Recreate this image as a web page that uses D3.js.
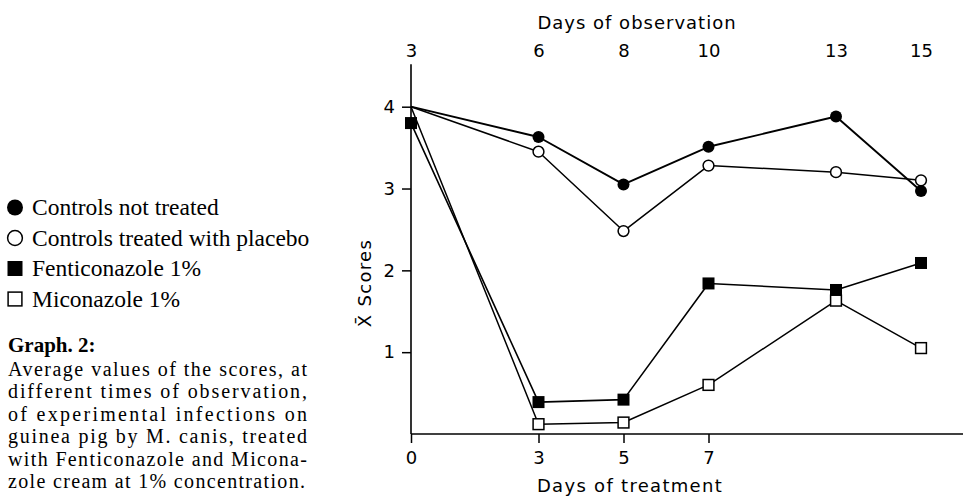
<!DOCTYPE html>
<html><head><meta charset="utf-8">
<script src="https://cdn.jsdelivr.net/npm/d3@7"></script>
<style>
html,body{margin:0;padding:0;background:#fff;}
svg{display:block;}
</style></head>
<body>
<svg id="chart" width="963" height="496"></svg>
<script>
// ---- data ----
const obsDays = [3, 6, 8, 10, 13, 15];            // days of observation (top axis)
const treatTicks = [0, 3, 5, 7];                   // days of treatment (bottom axis labels)
const yTicks = [1, 2, 3, 4];
const controlsNotTreated = [4.0, 3.63, 3.05, 3.51, 3.88, 2.97];
const controlsPlacebo    = [4.0, 3.45, 2.48, 3.28, 3.20, 3.10];
const fenticonazole      = [3.80, 0.39, 0.42, 1.84, 1.76, 2.09];
const miconazole         = [4.0, 0.12, 0.14, 0.60, 1.63, 1.05];
const seriesNames = ["Controls not treated", "Controls treated with placebo", "Fenticonazole 1%", "Miconazole 1%"];
const captionTitle = "Graph. 2:";
const captionLines = [
  "Average values of the scores, at",
  "different times of observation,",
  "of experimental infections on",
  "guinea pig by M. canis, treated",
  "with Fenticonazole and Micona-",
  "zole cream at 1% concentration."
];

const series = [
  {name: seriesNames[0], values: controlsNotTreated, shape: "circle", filled: true,  firstMarker: false, sw: 1.9},
  {name: seriesNames[1], values: controlsPlacebo,    shape: "circle", filled: false, firstMarker: false, sw: 1.5},
  {name: seriesNames[2], values: fenticonazole,      shape: "square", filled: true,  firstMarker: true,  sw: 1.6},
  {name: seriesNames[3], values: miconazole,         shape: "square", filled: false, firstMarker: false, sw: 1.5}
];

const svg = d3.select("#chart");
const chartFont = "'DejaVu Sans', sans-serif";
const serif = "'Liberation Serif', 'Times New Roman', serif";

// scales
const x = d3.scaleLinear().domain([3, 15]).range([411, 921]);
const xT = d3.scaleLinear().domain([0, 12]).range([411, 921]);
const y = d3.scaleLinear().domain([0, 4]).range([434, 106.7]);

// y axis
const yAxisG = svg.append("g").attr("transform", `translate(${x(3)},0)`)
  .call(d3.axisLeft(y).tickValues(yTicks).tickSize(9).tickPadding(7).tickFormat(d3.format("d")));
yAxisG.select(".domain").remove();
yAxisG.selectAll(".tick line").attr("stroke", "#000").attr("stroke-width", 1.5);
yAxisG.selectAll(".tick text").attr("font-family", chartFont).attr("font-size", 18).attr("fill", "#000");
svg.append("line").attr("x1", x(3)).attr("x2", x(3)).attr("y1", y(4.52)).attr("y2", y(0))
  .attr("stroke", "#000").attr("stroke-width", 1.6);

// bottom axis
const xAxisG = svg.append("g").attr("transform", `translate(0,${y(0)})`)
  .call(d3.axisBottom(xT).tickValues(treatTicks).tickSize(9).tickPadding(8).tickFormat(d3.format("d")));
xAxisG.select(".domain").remove();
xAxisG.selectAll(".tick line").attr("stroke", "#000").attr("stroke-width", 1.5);
xAxisG.selectAll(".tick text").attr("font-family", chartFont).attr("font-size", 18).attr("fill", "#000");
svg.append("line").attr("x1", xT(0)).attr("x2", 963).attr("y1", y(0)).attr("y2", y(0))
  .attr("stroke", "#000").attr("stroke-width", 1.6);

// top axis (labels only)
const topAxisG = svg.append("g").attr("transform", `translate(0,${y(4.52)})`)
  .call(d3.axisTop(x).tickValues(obsDays).tickSize(0).tickPadding(7).tickFormat(d3.format("d")));
topAxisG.select(".domain").remove();
topAxisG.selectAll(".tick text").attr("font-family", chartFont).attr("font-size", 18).attr("fill", "#000");

// axis titles
svg.append("text").attr("x", 637).attr("y", 29).attr("text-anchor", "middle")
  .attr("font-family", chartFont).attr("font-size", 18).attr("letter-spacing", 1).text("Days of observation");
svg.append("text").attr("x", 630).attr("y", 492).attr("text-anchor", "middle")
  .attr("font-family", chartFont).attr("font-size", 18).attr("letter-spacing", 1.3).text("Days of treatment");
svg.append("text").attr("transform", `translate(371,283) rotate(-90)`).attr("text-anchor", "middle")
  .attr("font-family", chartFont).attr("font-size", 18).attr("letter-spacing", 1.3).text("X\u0304 Scores");

// lines
const line = d3.line().x((d, i) => x(obsDays[i])).y(d => y(d));
svg.selectAll("path.series").data(series).join("path")
  .attr("class", "series")
  .attr("d", d => line(d.values))
  .attr("fill", "none").attr("stroke", "#000").attr("stroke-width", d => d.sw)
  .attr("stroke-linejoin", "round");

// markers
function drawMarker(g, shape, filled, cx, cy, size) {
  if (shape === "circle") {
    g.append("circle").attr("cx", cx).attr("cy", cy).attr("r", size / 2 - (filled ? 0 : 0.6))
      .attr("fill", filled ? "#000" : "#fff").attr("stroke", "#000").attr("stroke-width", filled ? 0 : 1.5);
  } else {
    const s = size - (filled ? 0 : 1.2);
    g.append("rect").attr("x", cx - s / 2).attr("y", cy - s / 2).attr("width", s).attr("height", s)
      .attr("fill", filled ? "#000" : "#fff").attr("stroke", "#000").attr("stroke-width", filled ? 0 : 1.5);
  }
}
const mg = svg.append("g");
series.forEach(s => {
  s.values.forEach((v, i) => {
    if (i === 0 && !s.firstMarker) return;
    drawMarker(mg, s.shape, s.filled, x(obsDays[i]), y(v), 12);
  });
});

// legend
const legendBase = [215, 245.5, 276, 306.5];
const lg = svg.append("g");
series.forEach((s, i) => {
  drawMarker(lg, s.shape, s.filled, 15, legendBase[i] - 7.5, s.shape === "circle" ? 16 : 15);
  lg.append("text").attr("x", 32).attr("y", legendBase[i])
    .attr("font-family", serif).attr("font-size", 23.5).text(s.name);
});

// caption
svg.append("text").attr("x", 8).attr("y", 352).attr("font-family", serif)
  .attr("font-size", 21).attr("font-weight", "bold").text(captionTitle);
captionLines.forEach((t, i) => {
  svg.append("text").attr("x", 8).attr("y", 375.5 + i * 22.5)
    .attr("font-family", serif).attr("font-size", 20)
    .attr("textLength", i === captionLines.length - 1 ? 297 : 299).attr("lengthAdjust", "spacing")
    .text(t);
});
</script>
</body></html>
